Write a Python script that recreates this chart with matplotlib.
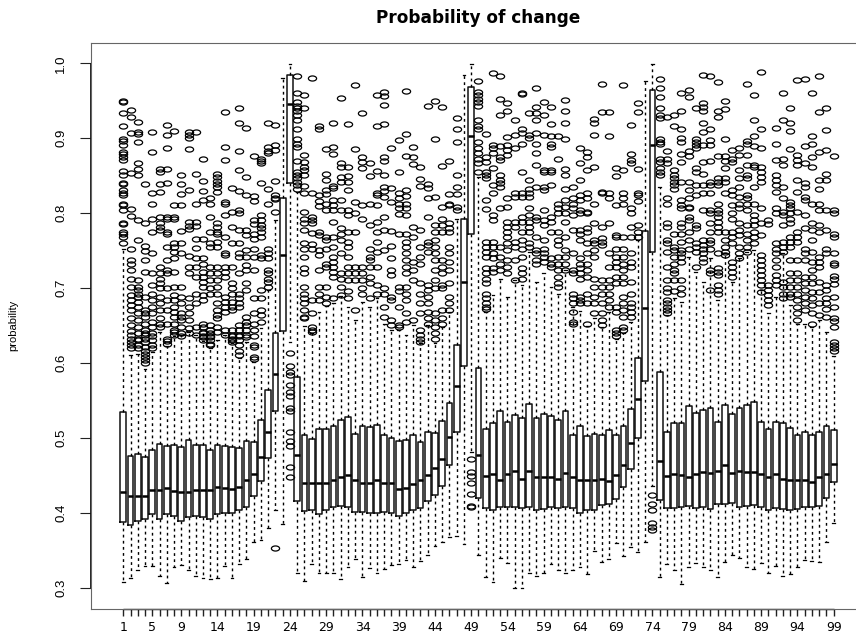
import numpy as np
import matplotlib
matplotlib.use("Agg")
import matplotlib.pyplot as plt
from matplotlib.path import Path
from matplotlib.font_manager import FontProperties

title = "Probability of change"
ylabel = "probability"
tick_text = {1: "1", 5: "5", 9: "9", 14: "14", 19: "19", 24: "24", 29: "29", 34: "34", 39: "39", 44: "44",
             49: "49", 54: "54", 59: "59", 64: "64", 69: "69", 74: "74", 79: "79", 84: "84", 89: "89", 94: "94", 99: "99"}

q3 = [.535,.477,.479,.475,.484,.493,.490,.491,.488,.498,.491,.491,.485,.491,.490,.488,.487,.497,.495,.525,
      .564,.641,.821,.984,.582,.505,.499,.512,.513,.517,.525,.529,.506,.517,.515,.518,.505,.501,.497,.498,
      .504,.495,.509,.507,.523,.547,.625,.792,.969,.594,.513,.521,.536,.522,.531,.527,.546,.527,.533,.530,
      .525,.536,.504,.517,.503,.506,.505,.511,.504,.517,.539,.607,.776,.965,.588,.509,.520,.521,.543,.534,
      .538,.541,.522,.545,.532,.541,.545,.548,.522,.512,.522,.520,.514,.505,.508,.505,.509,.517,.511]
med = [.428,.423,.423,.423,.431,.431,.434,.430,.428,.429,.431,.431,.431,.435,.434,.432,.435,.444,.453,.475,
       .509,.586,.744,.946,.478,.440,.440,.440,.441,.445,.448,.451,.445,.441,.440,.444,.440,.440,.432,.434,
       .439,.444,.451,.460,.472,.502,.570,.709,.903,.478,.450,.453,.445,.452,.456,.446,.457,.448,.448,.448,
       .446,.454,.448,.444,.445,.445,.446,.443,.451,.464,.494,.553,.674,.891,.470,.450,.452,.451,.449,.452,
       .455,.454,.456,.465,.454,.457,.455,.455,.453,.448,.452,.446,.444,.444,.444,.442,.448,.453,.466]
q1 = [.388,.385,.390,.392,.399,.393,.399,.396,.390,.395,.397,.395,.393,.399,.400,.400,.404,.408,.423,.443,
      .474,.537,.643,.841,.417,.403,.404,.399,.405,.409,.410,.409,.402,.402,.401,.401,.402,.401,.396,.401,
      .404,.407,.416,.424,.436,.464,.509,.597,.773,.421,.407,.405,.409,.409,.408,.407,.409,.404,.406,.408,
      .407,.408,.407,.401,.404,.404,.411,.413,.419,.435,.459,.501,.577,.749,.418,.407,.407,.409,.410,.407,
      .409,.406,.413,.412,.414,.408,.410,.411,.408,.405,.407,.406,.404,.406,.408,.409,.410,.420,.442]
whisker_low = [.309,.314,.324,.330,.330,.316,.307,.328,.331,.324,.317,.314,.313,.314,.330,.314,.332,.339,.362,.365,
               .380,.405,.386,.629,.320,.310,.332,.320,.320,.321,.313,.328,.339,.315,.327,.320,.326,.331,.332,.338,
               .329,.337,.344,.357,.362,.368,.370,.359,.482,.345,.315,.309,.340,.334,.300,.300,.320,.316,.320,.332,
               .324,.321,.324,.328,.319,.350,.335,.339,.360,.343,.355,.349,.362,.436,.315,.332,.324,.306,.328,.334,
               .328,.324,.315,.335,.345,.341,.328,.326,.334,.320,.330,.317,.319,.328,.338,.337,.335,.362,.387]
whisker_high = [.753,.611,.613,.592,.615,.642,.623,.636,.638,.642,.638,.630,.621,.631,.638,.627,.607,.628,.602,.647,
                .698,.791,.980,.999,.829,.650,.640,.669,.676,.680,.690,.675,.658,.682,.675,.687,.653,.644,.644,.638,
                .651,.627,.651,.627,.649,.669,.793,.985,.999,.849,.669,.691,.713,.689,.711,.705,.749,.709,.720,.702,
                .693,.724,.675,.670,.650,.660,.648,.668,.632,.640,.655,.765,.976,.999,.835,.665,.687,.682,.742,.722,
                .709,.740,.685,.747,.709,.740,.749,.751,.698,.667,.689,.747,.678,.653,.653,.649,.658,.642,.610]

# outlying values, thousandths of probability, one list per box
fliers_milli = [
 [950,949,934,917,899,896,891,882,879,875,871,857,851,841,839,831,827,824,813,811,804,787,786,775,772,769,761],
 [938,928,907,854,806,796,752,738,732,724,713,702,691,684,678,671,660,651,643,638,632,628,624,620],
 [922,909,906,895,867,859,851,791,764,711,702,698,693,689,682,675,667,658,649,640,633,631,624,620],
 [839,787,756,750,738,722,689,671,667,662,653,644,638,633,640,629,622,617,613,608,604,600],
 [909,882,827,813,793,775,747,720,704,693,684,675,667,655,649,640,637,631,624,620],
 [859,855,839,829,795,787,782,778,729,720,713,707,700,689,680,671,660,653,649],
 [918,905,887,859,841,795,793,775,773,755,738,724,720,700,684,671,653,633,630,626],
 [910,811,795,792,760,755,749,740,722,702,691,684,675,669,662,653,644,638,642],
 [851,839,826,811,777,761,747,702,689,680,667,662,658,649,640,636],
 [908,904,901,886,831,789,783,779,743,729,720,687,675,667,658,647,640],
 [909,852,812,789,783,766,754,740,729,715,693,680,649,638],
 [873,843,830,818,766,740,732,722,715,709,702,691,684,653,649,642,636,640,635,631],
 [820,813,795,775,761,755,729,720,711,700,693,651,644,640,636,635,631,626,624],
 [852,848,843,839,835,828,787,782,775,772,762,755,729,720,711,702,693,680,671,664,660,649,642],
 [935,889,871,815,813,798,768,747,744,729,722,715,689,682,675,669,644,638],
 [834,802,782,760,729,707,700,693,682,675,671,644,638,631,637,633,629],
 [940,921,883,858,830,805,801,778,761,747,742,720,693,687,680,675,651,644,638,631,637,624,617,611],
 [914,848,824,778,771,751,742,731,724,707,698,662,655,651,644,638,635],
 [877,823,817,791,786,773,766,753,742,724,687,667,653,644,636,624,622,609,606],
 [873,870,867,840,798,791,784,780,775,769,744,740,698,687,671,664,655],
 [921,889,883,880,832,813,753,747,740,724,720,713,709,702],
 [918,891,884,843,824,821,819,802,354],
 [],
 [614,597,588,584,571,562,556,540,536,508,496,490,462,448],
 [983,960,948,943,940,936,931,924,912,899,893,888,870,855,851,847,842,838,833],
 [958,941,878,869,862,858,851,837,827,802,793,787,778,760,753,742,727,720,702,693,687,680,671,662,660],
 [980,827,795,791,787,774,759,753,684,667,649,644,642],
 [916,912,824,816,810,775,771,751,744,724,702,693,684],
 [886,852,845,831,826,813,804,769,764,753,733,729,702,689,680],
 [920,889,879,837,834,818,811,804,789,769,755,742,735,729,722,715,687],
 [954,867,862,849,842,818,804,780,773,764,747,720,713,702,691],
 [919,862,850,842,831,804,798,775,762,755,742,729,720,711,696,687],
 [971,886,815,800,775,729,720,711,671],
 [934,875,869,860,811,793,729,720,711,700,693],
 [867,850,813,784,753,742,738,729,715,707,687],
 [958,917,857,827,824,811,789,775,762,749,729,704,693],
 [962,956,944,919,875,870,851,835,830,822,795,778,751,700,693,675,662],
 [887,834,815,777,756,740,724,718,689,684,658,651],
 [898,855,827,820,813,807,799,773,702,696,675,651,649],
 [963,906,876,831,823,813,807,798,773,762,755,747,738,729,720,702,693,684,667,655],
 [888,875,866,782,769,735,724,711,658],
 [862,846,837,778,755,742,733,707,693,680,667,644,638,633,629],
 [943,839,834,820,795,762,758,749,704,698,689,680,669,660,653],
 [950,899,822,784,775,764,755,747,738,724,711,700,667,658,649,640,633],
 [942,863,809,793,784,775,738,729,720,704,700,671,660,653],
 [870,826,813,811,787,780,775,755,747,735,724,707,689,680,671],
 [927,912,895,851,835,826,809,804],
 [],
 [473,455,450,441,426,410,408],
 [976,962,958,953,949,943,925,917,913,895,887,880,873,867,855],
 [906,875,869,855,851,847,818,806,762,755,749,742,727,720,713,707,693,687,680,675,673],
 [987,891,887,880,860,838,827,798,791,762,755,747,740,727,722],
 [983,953,931,890,875,871,851,844,840,835,807,755,742,733,724],
 [947,937,902,891,884,878,820,809,789,782,775,769,760,751,738,729,720],
 [924,904,887,827,822,789,782,762,755,738,711],
 [960,959,912,907,893,855,827,822,795,789,775,764,753,742,727,720,713],
 [934,905,900,845,833,827,822,807,798,789,782,775,760,755],
 [967,942,934,924,907,893,881,864,835,795,791,769,751,747,738,733],
 [948,931,905,858,855,835,831,804,791,784,764,753,747,742,735],
 [942,919,903,892,889,858,855,838,795,789,775,740,733,729],
 [903,872,813,807,800,775,764,758,742,733,724,715,707,702],
 [951,937,921,899,859,851,833,818,809,800,789,769,751,742,733,724],
 [835,820,813,807,798,778,747,724,720,693,687,680,669,655,653],
 [887,867,844,824,818,804,800,778,773,764,740,733,727,720,713,689,684,680],
 [882,875,858,827,820,802,800,780,775,760,747,733,724,715,693,680,653],
 [926,921,904,862,813,787,764,760,751,742,713,702,689,680,667],
 [973,935,829,827,782,767,762,758,711,702,693,680,667,658,651],
 [935,903,827,820,787,747,729,711,702,693,684,675],
 [860,850,811,771,769,753,742,735,729,715,707,675,669,644,640,636],
 [971,858,827,820,813,768,753,742,733,724,715,707,689,680,671,662,649,644],
 [918,879,871,867,807,801,782,769,747,735,729,709,693,680,675,669,662],
 [947,935,859,827,824,816,784,775,769],
 [],
 [425,412,404,387,382,378],
 [979,967,955,940,931,927,899,895,892,873,869,860,855,851],
 [928,883,873,867,820,812,787,782,764,760,749,729,711,700,695,684,680,675,671,667],
 [931,916,858,851,847,842,838,833,773,755,751,742,733,724,720,711,696],
 [960,936,913,900,895,879,869,842,818,811,807,787,782,773,762,751,747,742,735,711,700,693],
 [964,955,883,876,842,831,820,809,807,795,791,775,764,753],
 [940,899,895,891,887,860,855,838,824,784,780,760,755,749,729],
 [984,947,942,937,920,908,891,868,853,838,827,804,764,758,753,747,740,735],
 [983,912,898,891,870,842,838,827,804,800,787,775,764,760,753,724,720,698],
 [975,937,929,876,847,842,838,813,804,800,795,789,782,775,747,727,722,718,704,698,693],
 [950,939,899,876,870,860,847,842,827,775,764,755,749,744],
 [884,873,869,831,824,811,800,793,775,769,760,735,729,722,715],
 [887,878,858,847,835,822,813,807,787,778,771,755,747,740],
 [973,896,893,878,864,851,847,824,820,813,804,784,773,764,755,749],
 [958,924,903,890,864,862,835,813,798,791,784,775,769,760],
 [989,912,887,862,855,849,842,807,787,771,744,738,731,724,718,711,704,695],
 [791,786,704,698,691,684,678],
 [914,892,871,851,844,838,829,807,800,760,753,747,738,729,718,711,704],
 [961,924,873,864,835,820,802,798,784,762,755,749,709,702,693,687],
 [940,920,910,886,815,811,807,800,793,787,769,762,755,738,720,711,702,693,689],
 [978,878,871,864,844,829,802,775,769,762,738,720,711,702,693,684,675,667,658],
 [979,890,867,840,835,822,818,798,780,753,747,738,715,707,698,689,680,671],
 [961,903,893,875,862,813,787,778,764,749,735,724,715,707,695,687,678,667,653],
 [983,935,882,844,833,813,804,784,775,742,735,729,709,695,680,664],
 [940,911,884,853,844,804,778,753,747,704,698,687,680,673,662],
 [877,804,800,773,769,747,734,731,717,713,706,688,675,661,657,648,629,624,620,617],
]

W, H = 856, 633
fig = plt.figure(figsize=(W / 100, H / 100), dpi=100, facecolor="white")
plt.rcParams["font.family"] = ["Liberation Sans", "DejaVu Sans"]
# the plot frame runs past the right edge of the picture, as in the reference
left, right, top, bottom = 91, 866, 42.5, 609
ax = fig.add_axes([left / W, 1 - bottom / H, (right - left) / W, (bottom - top) / H])

n = len(med)
positions = np.arange(1, n + 1)
stats = [dict(med=med[i], q1=q1[i], q3=q3[i], whislo=whisker_low[i], whishi=whisker_high[i],
              fliers=[v / 1000 for v in fliers_milli[i]]) for i in range(n)]

circle = Path.unit_circle()
ellipse = Path(circle.vertices * np.array([1.0, 0.62]), circle.codes)

ax.bxp(stats, positions=positions, widths=0.8, capwidths=0.4, manage_ticks=False,
       boxprops=dict(color="#111111", linewidth=1.1),
       medianprops=dict(color="black", linewidth=1.8, solid_capstyle="butt"),
       whiskerprops=dict(color="black", linewidth=1.0, linestyle=(0, (2.0, 2.4))),
       capprops=dict(color="black", linewidth=0.9),
       flierprops=dict(marker=ellipse, markersize=5.9, markerfacecolor="none",
                       markeredgecolor="black", markeredgewidth=0.9))

ax.set_xlim(-3.45, 103.46)
ax.set_ylim(0.2724, 1.0277)

for s in ax.spines.values():
    s.set_color("#666666")
    s.set_linewidth(0.8)
# axis lines of the two ticked ranges
ax.plot([-3.45, -3.45], [0.3, 1.0], color="#111111", lw=1.3, clip_on=False, solid_capstyle="butt")
ax.plot([1, 99], [0.2724, 0.2724], color="#111111", lw=1.0, clip_on=False, solid_capstyle="butt")

ax.set_yticks(np.round(np.arange(0.3, 1.01, 0.1), 1))
ax.set_yticklabels([f"{v:.1f}" for v in np.arange(0.3, 1.01, 0.1)], rotation=90, va="center", fontsize=9.5)
ax.tick_params(axis="y", length=8, width=0.8, color="#222222", pad=9)
ax.set_xticks(positions)
ax.set_xticklabels([tick_text.get(int(p), "") for p in positions], fontsize=9, family="DejaVu Sans")
ax.tick_params(axis="x", length=5, width=1.0, color="#222222", pad=3.4)

fig.text(13 / W, 1 - 325 / H, ylabel, rotation=90, ha="center", va="center", fontsize=8)
title_font = FontProperties(family="DejaVu Sans", weight="bold", stretch="normal", size=12.2)
fig.text(478 / W, 1 - 18 / H, title, ha="center", va="center", fontproperties=title_font)

fig.savefig("out.png", dpi=100)
